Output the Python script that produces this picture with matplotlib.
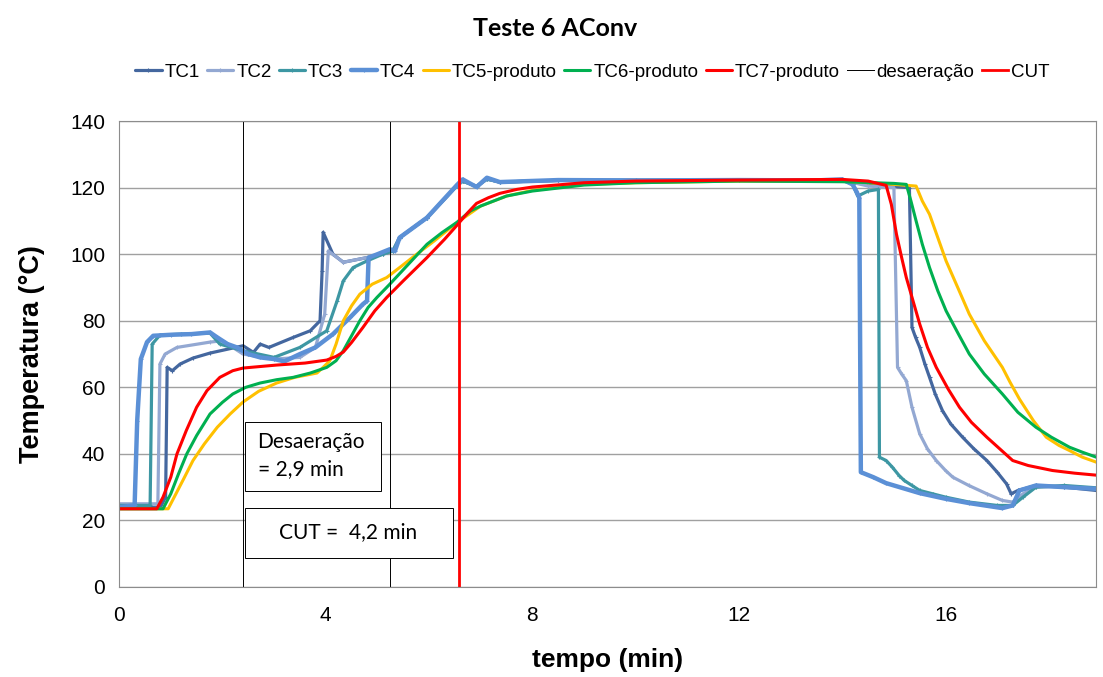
import matplotlib
matplotlib.use("Agg")
import matplotlib.pyplot as plt
from matplotlib.patches import Rectangle

# Leituras aproximadas do gráfico (tempo em min, temperatura em °C)
t_tc1 = [0, 0.8, 0.9, 0.93, 1.03, 1.18, 1.43, 1.76, 2.4, 2.6, 2.73, 2.9, 3.37, 3.7, 3.89, 3.93, 3.95,
         4.14, 4.34, 4.8, 5.1, 5.3, 5.43, 5.96, 6.54, 6.65, 6.92, 7.12, 7.37, 8.5, 10, 12, 13.5, 14.0,
         14.5, 15.3, 15.35, 15.42, 15.5, 15.6, 15.69, 15.8, 15.94, 16.1, 16.33, 16.55, 16.8, 17.0,
         17.18, 17.27, 17.4, 17.75, 18.3, 18.92]
T_tc1 = [24, 24, 27, 66, 65, 67, 68.8, 70.3, 72.5, 70.5, 73, 72, 75, 77, 80, 95, 106.6,
         100, 97.6, 99, 100, 101, 105, 111, 120.6, 122, 120.4, 122.6, 121.7, 122.2, 122.2, 122.2, 122.2, 122.3,
         121, 120, 78, 75, 72, 67, 63, 58, 53, 49, 45, 41.5, 38, 34.5,
         31, 28, 29, 30.5, 30, 29]

t_tc2 = [0, 0.75, 0.79, 0.89, 1.12, 1.76, 2.0, 2.4, 3.0, 3.5, 3.8, 3.98, 4.05, 4.34, 4.8, 5.1, 5.3,
         5.43, 5.96, 6.54, 6.65, 6.92, 7.12, 7.37, 8.5, 10, 12, 13.5, 14.0, 14.5, 15.0, 15.07, 15.15,
         15.24, 15.35, 15.5, 15.65, 15.82, 16.0, 16.14, 16.45, 16.8, 17.1, 17.3, 17.5, 17.75, 18.3, 18.92]
T_tc2 = [25, 25, 67, 70, 72, 73.6, 74, 70, 68.5, 69, 72, 82, 101, 97.6, 99, 100, 101,
         105, 111, 120.6, 122, 120.4, 122.6, 121.7, 122.2, 122.2, 122.2, 122.2, 122.3, 120.5, 120, 66, 64,
         62, 54, 46, 41.5, 38, 35, 33, 30.5, 28, 26, 25.5, 28, 30, 30.3, 29.5]

t_tc3 = [0, 0.6, 0.64, 0.79, 1.2, 1.76, 1.95, 2.4, 3.0, 3.5, 4.02, 4.22, 4.34, 4.53, 4.8, 5.1, 5.3,
         5.43, 5.96, 6.54, 6.65, 6.92, 7.12, 7.37, 8.5, 10, 12, 13.5, 14.0, 14.2, 14.3, 14.5, 14.7,
         14.72, 14.85, 14.97, 15.1, 15.2, 15.35, 15.5, 15.75, 16.0, 16.46, 17.0, 17.3, 17.5, 17.75, 18.3, 18.92]
T_tc3 = [24.5, 24.5, 73, 75.7, 76, 76.3, 73, 71, 69, 72, 77, 86, 92, 96, 98, 100, 101,
         105, 111, 120.6, 122, 120.4, 122.6, 121.7, 122.2, 122.2, 122.2, 122.2, 122.3, 121, 117.5, 119, 119.5,
         39, 38, 36, 33.5, 32, 30.5, 29, 28, 27, 25.5, 24.5, 24.5, 27, 30, 30.5, 29.8]

t_tc4 = [0, 0.3, 0.35, 0.42, 0.54, 0.66, 1.0, 1.4, 1.76, 1.9, 2.1, 2.28, 2.5, 2.73, 3.0, 3.2, 3.5, 3.8,
         4.14, 4.47, 4.72, 4.8, 4.83, 5.0, 5.24, 5.34, 5.43, 5.96, 6.54, 6.65, 6.92, 7.12, 7.37, 8.5, 10,
         12, 13.5, 14.0, 14.2, 14.27, 14.33, 14.36, 14.6, 14.85, 15.5, 16.0, 16.46, 17.1, 17.3, 17.43,
         17.75, 18.3, 18.92]
T_tc4 = [24, 24.5, 50, 68.5, 73.6, 75.5, 75.8, 76, 76.5, 75, 73, 72, 70, 69, 68.5, 67.8, 70, 72,
         76, 81, 85, 86, 99, 100, 101.5, 101, 105, 111, 120.8, 122.5, 120.2, 123, 121.7, 122.3, 122.2,
         122.3, 122.2, 122.5, 121, 119, 117, 34.5, 33, 31.2, 28.2, 26.5, 25.2, 23.7, 24.5, 29,
         30.5, 30, 29.5]

t_tc5 = [0, 0.95, 1.1, 1.25, 1.43, 1.65, 1.9, 2.15, 2.4, 2.7, 3.05, 3.4, 3.83, 3.95, 4.08, 4.2, 4.34,
         4.5, 4.66, 4.9, 5.18, 5.43, 5.76, 6.1, 6.54, 7.0, 7.5, 8.0, 9.0, 10, 12, 14, 15.0, 15.43, 15.55,
         15.69, 15.85, 16.01, 16.25, 16.46, 16.75, 17.1, 17.25, 17.43, 17.7, 17.95, 18.2, 18.4, 18.65, 18.92]
T_tc5 = [23.5, 23.5, 28, 32.5, 38, 43, 48, 52, 55.6, 58.8, 61.3, 63, 64.3, 66, 68, 73, 80,
         84.5, 88, 91, 93, 96, 100, 104, 109.5, 114.5, 117.5, 119.2, 121, 121.5, 122, 122, 121, 120.5, 116,
         112, 105, 98, 89.5, 82, 74, 66, 61.5, 56.5, 50, 45, 42.5, 41, 39, 37.5]

t_tc6 = [0, 0.85, 1.0, 1.15, 1.31, 1.5, 1.76, 2.0, 2.2, 2.45, 2.73, 3.05, 3.37, 3.7, 4.02, 4.2, 4.34,
         4.5, 4.66, 4.82, 4.99, 5.24, 5.6, 5.96, 6.25, 6.54, 6.8, 7.0, 7.5, 8.0, 9.0, 10, 12, 14, 15.0,
         15.24, 15.33, 15.43, 15.55, 15.69, 15.85, 16.01, 16.25, 16.46, 16.75, 17.1, 17.4, 17.75, 18.05,
         18.4, 18.65, 18.92]
T_tc6 = [23.5, 23.5, 28, 34, 40, 45.5, 52, 55.5, 58, 60, 61.3, 62.3, 63, 64.3, 66, 68, 71,
         75.5, 80, 84, 87, 91, 97, 103, 106.5, 109.6, 113, 114.5, 117.5, 119, 120.8, 121.5, 122, 121.8, 121.3,
         121, 116, 110, 103, 96, 89, 83, 76, 70, 64, 58, 52.5, 48, 45,
         42, 40.5, 39]

t_tc7 = [0, 0.73, 0.85, 1.0, 1.12, 1.3, 1.5, 1.7, 1.95, 2.2, 2.4, 3.05, 3.6, 4.02, 4.2, 4.34, 4.5,
         4.72, 4.95, 5.18, 5.5, 5.96, 6.3, 6.54, 6.75, 6.92, 7.15, 7.37, 7.7, 8.0, 9.0, 10, 12, 14, 14.5,
         14.85, 14.95, 15.05, 15.15, 15.24, 15.37, 15.5, 15.65, 15.82, 16.05, 16.27, 16.5, 16.8, 17.05,
         17.3, 17.6, 18.07, 18.5, 18.92]
T_tc7 = [23.5, 23.5, 27, 33, 40, 47, 54, 59, 63, 65, 65.8, 66.7, 67.3, 68.2, 69.3, 70.6, 73.5,
         78, 83, 87, 92, 99, 104.5, 108.7, 112.5, 115.3, 117, 118.3, 119.5, 120.2, 121.5, 122, 122.3, 122.5, 122,
         120.7, 115, 106, 99, 93, 86, 79, 72, 66, 59.5, 54, 49.5, 45, 41.5,
         38, 36.5, 35, 34.2, 33.6]

t_desaeracao = [2.4, 5.24]
t_cut = 6.58

series = [
    ("TC1", t_tc1, T_tc1, "#44679F", 2.3, "+"),
    ("TC2", t_tc2, T_tc2, "#93A8D2", 2.3, "+"),
    ("TC3", t_tc3, T_tc3, "#3D97A3", 2.3, "+"),
    ("TC4", t_tc4, T_tc4, "#5B90D6", 3.2, "+"),
    ("TC5-produto", t_tc5, T_tc5, "#FFC000", 2.2, None),
    ("TC6-produto", t_tc6, T_tc6, "#00B050", 2.2, None),
    ("TC7-produto", t_tc7, T_tc7, "#FF0000", 2.2, None),
]

fig = plt.figure(figsize=(11.03, 6.77), dpi=100)
ax = fig.add_axes([0.108, 0.133, 0.886, 0.688])

for nome, t, T, cor, lw, mk in series:
    ax.plot(t, T, color=cor, lw=lw, marker=mk, ms=3, mew=0.8, label=nome,
            solid_joinstyle="round", solid_capstyle="round")

for i, x in enumerate(t_desaeracao):
    ax.plot([x, x], [0, 140], color="black", lw=0.7, label="desaeração" if i == 0 else None)
ax.plot([t_cut, t_cut], [0, 140], color="#FF0000", lw=2.0, label="CUT")

# caixas de texto
ax.add_patch(Rectangle((2.44, 28.8), 2.63, 20.8, fill=True, fc="white", ec="black", lw=0.7, zorder=5))
ax.text(2.68, 39.5, "Desaeração\n= 2,9 min", fontsize=15, family="Lato", va="center",
        linespacing=1.45, zorder=6)
ax.add_patch(Rectangle((2.44, 8.7), 4.02, 15.0, fill=True, fc="white", ec="black", lw=0.7, zorder=5))
ax.text(3.1, 16.5, "CUT =  4,2 min", fontsize=15, family="Lato", va="center", zorder=6)

ax.set_xlim(0, 18.92)
ax.set_ylim(0, 140)
ax.set_xticks([0, 4, 8, 12, 16])
ax.set_yticks(range(0, 141, 20))
ax.yaxis.grid(True, color="#A0A0A0", lw=1.0)
ax.set_axisbelow(True)
for s in ax.spines.values():
    s.set_color("#8C8C8C")
ax.tick_params(length=0, labelsize=15)
ax.tick_params(axis="x", pad=14)
ax.tick_params(axis="y", pad=10)
for lab in ax.get_xticklabels() + ax.get_yticklabels():
    lab.set_family("Liberation Sans")

ax.set_xlabel("tempo (min)", fontsize=19, fontweight="bold", family="Liberation Sans", labelpad=16)
ax.set_ylabel("Temperatura (°C)", fontsize=19.5, fontweight="bold", family="Liberation Sans", labelpad=18)

fig.suptitle("Teste 6 AConv", x=0.503, y=0.975, fontsize=18, fontweight="bold", family="Lato")
fig.legend(loc="center", bbox_to_anchor=(0.537, 0.893), ncol=9, frameon=False,
           prop={"family": "Liberation Sans", "size": 13.5}, handlelength=1.4,
           handletextpad=0.15, columnspacing=0.4, borderaxespad=0)

fig.savefig("out.png", dpi=100)
